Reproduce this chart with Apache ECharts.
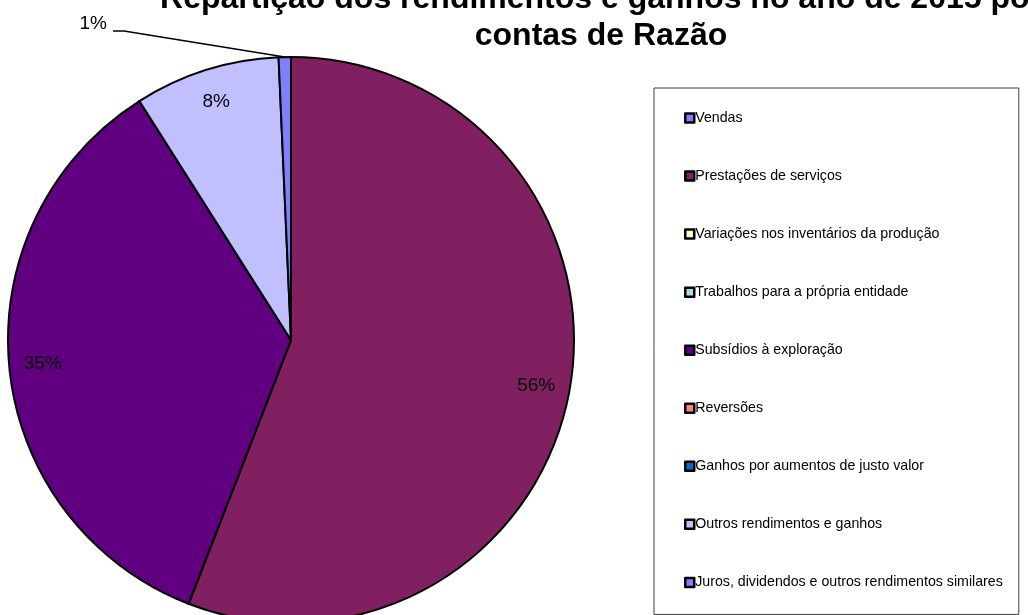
<!DOCTYPE html>
<html>
<head>
<meta charset="utf-8">
<script src="https://cdn.jsdelivr.net/npm/echarts@6/dist/echarts.min.js"></script>
<style>
  html, body { margin: 0; padding: 0; background: #fff; }
  #chart { width: 1028px; height: 615px; }
</style>
</head>
<body>
<div id="chart"></div>
<script>
const categories = [
  'Vendas',
  'Prestações de serviços',
  'Variações nos inventários da produção',
  'Trabalhos para a própria entidade',
  'Subsídios à exploração',
  'Reversões',
  'Ganhos por aumentos de justo valor',
  'Outros rendimentos e ganhos',
  'Juros, dividendos e outros rendimentos similares'
]
const values = [0, 55.9, 0, 0, 35.1, 0, 0, 8.3, 0.7]
const colors = ['#8080ff', '#802060', '#ffffc0', '#a0e0e0', '#600080', '#ff8080', '#0070c0', '#c0c0ff', '#8080ff']

const FONT = 'Liberation Sans, Arial, sans-serif'
const total = values.reduce((a, b) => a + b, 0)
const pct = v => Math.round(v / total * 100) + '%'

let chart = echarts.init(document.getElementById('chart'))
chart.setOption({
  backgroundColor: '#fff',
  animation: false,
  color: colors,
  title: {
    text: 'Repartição dos rendimentos e ganhos no ano de 2015 por\ncontas de Razão',
    left: 601,
    top: -19,
    padding: 0,
    textAlign: 'center',
    textStyle: {
      fontFamily: FONT,
      fontSize: 32,
      fontWeight: 'bold',
      lineHeight: 37,
      color: '#000'
    }
  },
  legend: {
    data: categories,
    orient: 'vertical',
    left: 654,
    top: 88,
    height: 600,
    itemWidth: 9,
    itemHeight: 9,
    itemGap: 44.05,
    icon: 'rect',
    padding: [23, 16, 25, 30],
    borderColor: '#404040',
    borderWidth: 1,
    selectedMode: false,
    itemStyle: { borderColor: '#000', borderWidth: 2.5 },
    textStyle: { fontFamily: FONT, fontSize: 14.2, lineHeight: 14, color: '#000', padding: [0, 0, 0, -4] }
  },
  series: [
    {
      // the slices, plus the outside label for the tiny slice
      type: 'pie',
      center: [291, 340],
      radius: [0, 283],
      startAngle: 90,
      clockwise: true,
      avoidLabelOverlap: false,
      itemStyle: { borderColor: '#000', borderWidth: 2 },
      emphasis: { disabled: true },
      data: categories.map((name, i) => ({
        name: name,
        value: values[i],
        label: { show: values[i] > 0 && values[i] / total < 0.02 },
        labelLine: { show: values[i] > 0 && values[i] / total < 0.02 }
      })),
      label: {
        position: 'outside',
        fontFamily: FONT,
        fontSize: 19,
        color: '#000',
        formatter: p => pct(p.value)
      },
      labelLine: { lineStyle: { color: '#000', width: 1.5 } },
      labelLayout: function (params) {
        const pts = params.labelLinePoints
        if (!pts) return {}
        return {
          x: 107,
          y: 24,
          align: 'right',
          verticalAlign: 'middle',
          labelLinePoints: [pts[0], [124, 31], [113, 31]]
        }
      }
    },
    {
      // label ring: puts the inside labels near the rim
      type: 'pie',
      center: [291, 340],
      radius: [210, 283],
      startAngle: 90,
      clockwise: true,
      silent: true,
      avoidLabelOverlap: false,
      itemStyle: { color: 'rgba(0,0,0,0)', borderWidth: 0 },
      labelLine: { show: false },
      data: categories.map((name, i) => ({ name: name, value: values[i] })),
      label: {
        position: 'inside',
        fontFamily: FONT,
        fontSize: 19,
        color: '#000',
        formatter: p => (p.value / total >= 0.02 ? pct(p.value) : '')
      }
    }
  ]
}, true)
</script>
</body>
</html>
